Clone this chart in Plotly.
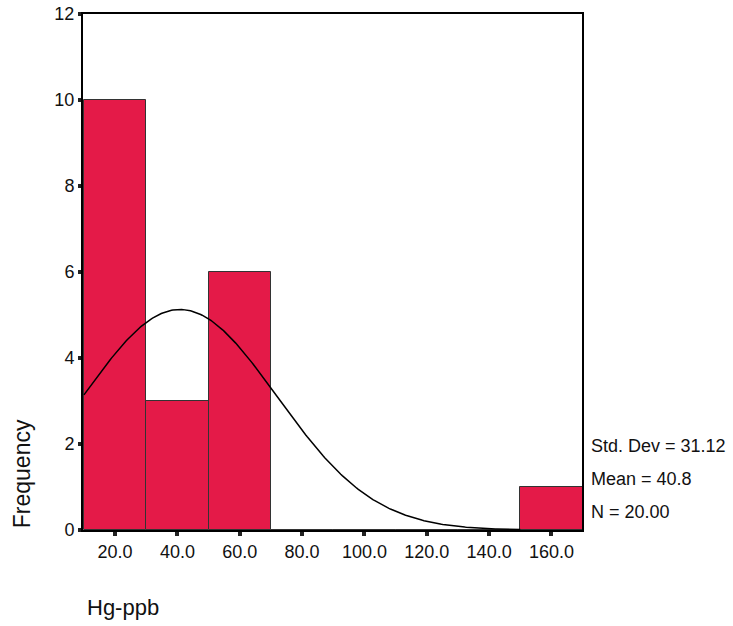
import numpy as np
import plotly.graph_objects as go

# Histogram of Hg concentrations (ppb), bins of width 20
bin_centers = [20, 40, 60, 80, 100, 120, 140, 160]
bin_counts = [10, 3, 6, 0, 0, 0, 0, 1]
bin_width = 20

# Summary statistics shown beside the plot
std_dev = 31.12
mean = 40.8
n_obs = 20

x_ticks = [20, 40, 60, 80, 100, 120, 140, 160]
y_ticks = [0, 2, 4, 6, 8, 10, 12]

FONT = "Liberation Sans, Arial, sans-serif"
BAR_COLOR = "rgb(228,26,72)"

# Normal curve scaled to the histogram (N * bin width * pdf)
xs = np.linspace(10, 150, 300)
ys = n_obs * bin_width / (std_dev * np.sqrt(2 * np.pi)) * np.exp(-0.5 * ((xs - mean) / std_dev) ** 2)

fig = go.Figure()
fig.add_trace(go.Bar(
    x=bin_centers, y=bin_counts, width=[bin_width] * len(bin_centers),
    marker=dict(color=BAR_COLOR, line=dict(color="#333333", width=1)),
    showlegend=False, hoverinfo="skip",
))
fig.add_trace(go.Scatter(
    x=xs, y=ys, mode="lines",
    line=dict(color="black", width=1.5),
    showlegend=False, hoverinfo="skip",
))

fig.update_layout(
    width=733, height=626,
    margin=dict(l=83, r=151, t=14, b=96),
    paper_bgcolor="white", plot_bgcolor="white",
    font=dict(family=FONT, size=18, color="#111111"),
    bargap=0,
    xaxis=dict(
        range=[9.7, 169.8], tickvals=x_ticks, tickformat=".1f",
        showgrid=False, zeroline=False, automargin=False,
        showline=True, linecolor="black", linewidth=2, mirror=True,
        ticks="outside", ticklen=4, tickwidth=4, tickcolor="#222222",
        tickfont=dict(size=18),
    ),
    yaxis=dict(
        range=[0, 12], tickvals=y_ticks,
        showgrid=False, zeroline=False, automargin=False,
        showline=True, linecolor="black", linewidth=2, mirror=True,
        ticks="outside", ticklen=3, tickwidth=4, tickcolor="#222222",
        tickfont=dict(size=18),
    ),
)

stats = [f"Std. Dev = {std_dev:.2f}", f"Mean = {mean}", f"N = {n_obs:.2f}"]
stat_y = [1.95, 1.18, 0.41]
for txt, yv in zip(stats, stat_y):
    fig.add_annotation(
        text=txt, xref="paper", x=1.014, yref="y", y=yv,
        xanchor="left", yanchor="middle", showarrow=False,
        font=dict(size=18, family=FONT, color="#111111"),
    )

fig.add_annotation(
    text="Frequency", xref="paper", x=-0.122, yref="y", y=1.3,
    xanchor="center", yanchor="middle", textangle=-90, showarrow=False,
    font=dict(size=23, family=FONT, color="#111111"),
)
fig.add_annotation(
    text="Hg-ppb", xref="paper", x=0.004, yref="paper", y=-0.151,
    xanchor="left", yanchor="middle", showarrow=False,
    font=dict(size=22, family=FONT, color="#111111"),
)

fig.write_html("out.html")
